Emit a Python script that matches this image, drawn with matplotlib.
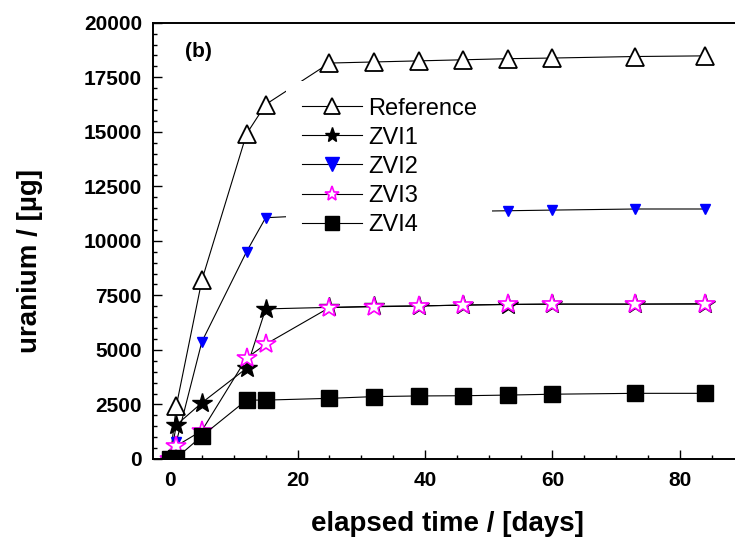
import matplotlib
matplotlib.use('Agg')
import matplotlib.pyplot as plt
from matplotlib.patches import Rectangle
from matplotlib.ticker import MultipleLocator

plt.rcParams['font.family'] = ['Liberation Sans', 'DejaVu Sans']

# elapsed time (days) and uranium (ug)
days = [0, 1, 5, 12, 15, 25, 32, 39, 46, 53, 60, 73, 84]
reference = [0, 2450, 8200, 14900, 16250, 18150, 18200, 18250, 18300, 18350, 18380, 18450, 18480]
zvi1 = [0, 1560, 2580, 4160, 6880, 6950, 7000, 7020, 7050, 7080, 7100, 7100, 7120]
zvi2 = [0, 790, 5380, 9500, 11060, 11200, 11250, 11300, 11350, 11380, 11410, 11460, 11460]
zvi3 = [0, 600, 1300, 4620, 5260, 6940, 6980, 7010, 7060, 7090, 7100, 7100, 7100]
zvi4 = [0, 50, 1050, 2700, 2700, 2780, 2860, 2890, 2900, 2930, 2970, 3010, 3010]

labels = ['Reference', 'ZVI1', 'ZVI2', 'ZVI3', 'ZVI4']

fig = plt.figure(figsize=(7.35, 5.43), dpi=100)
ax = fig.add_axes([0.2082, 0.1547, 0.7918, 0.8035])

lw = 0.8
ax.plot(days, reference, color='black', lw=lw, marker='^', ms=13.5,
        mfc='white', mec='black', mew=1.3, label=labels[0])
ax.plot(days, zvi1, color='black', lw=lw, marker='*', ms=15,
        mfc='black', mec='black', mew=1, label=labels[1])
ax.plot(days, zvi2, color='black', lw=lw, marker='v', ms=7.5,
        mfc='blue', mec='blue', mew=1, label=labels[2])
ax.plot(days, zvi3, color='black', lw=lw, marker='*', ms=15,
        mfc='white', mec='magenta', mew=1.2, label=labels[3])
ax.plot(days, zvi4, color='black', lw=lw, marker='s', ms=11.5,
        mfc='black', mec='black', mew=1, label=labels[4])

ax.set_xlim(-2.667, 88.63)
ax.set_ylim(0, 20000)
ax.xaxis.set_major_locator(MultipleLocator(20))
ax.xaxis.set_minor_locator(MultipleLocator(5))
ax.yaxis.set_major_locator(MultipleLocator(2500))
ax.yaxis.set_minor_locator(MultipleLocator(500))

for s in ['top', 'bottom', 'left']:
    ax.spines[s].set_linewidth(1.4)
ax.spines['right'].set_visible(False)

ax.tick_params(which='both', direction='in', top=False, right=False, width=1)
ax.tick_params(which='major', length=6.5)
ax.tick_params(which='minor', length=3)
ax.tick_params(axis='x', pad=9)
ax.tick_params(axis='y', pad=8)
for t in ax.get_xticklabels() + ax.get_yticklabels():
    t.set_fontsize(15)
    t.set_fontweight('bold')

# white box behind the legend hides the lines that run under it
ax.add_patch(Rectangle((0.2285, 0.4905), 0.354, 0.3759, transform=ax.transAxes,
                       facecolor='white', edgecolor='none', zorder=4))

leg = ax.legend(loc='upper left', bbox_to_anchor=(0.256, 0.8285),
                borderaxespad=0, borderpad=0, fontsize=17,
                handlelength=2.54, handletextpad=0.25, labelspacing=0.3,
                frameon=False)
leg.set_zorder(5)
for line, ms in zip(leg.get_lines(), [12, 11, 10, 11, 10]):
    line.set_markersize(ms)

fig.text(185 / 735, 1 - 51.7 / 543, '(b)', fontsize=15, fontweight='bold',
         ha='left', va='center')

fig.text(447 / 735, 1 - 524 / 543, 'elapsed time / [days]', fontsize=20,
         fontweight='bold', ha='center', va='center')
fig.text(30 / 735, 1 - 261 / 543, 'uranium / [µg]', fontsize=20,
         fontweight='bold', rotation=90, ha='center', va='center')

fig.savefig('out.png', dpi=100)
